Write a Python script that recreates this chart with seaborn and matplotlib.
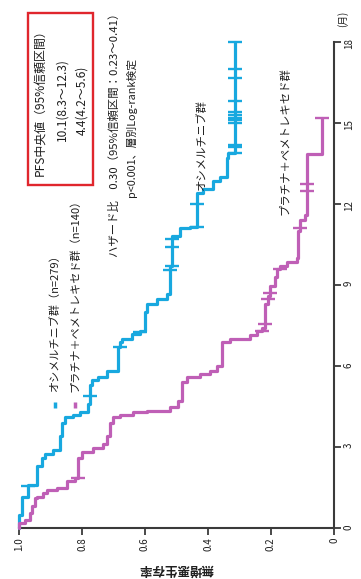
import numpy as np
import pandas as pd
import matplotlib
matplotlib.use("Agg")
import matplotlib.pyplot as plt
from matplotlib.patches import Rectangle
import seaborn as sns

# ---- data -------------------------------------------------------------
# Kaplan-Meier steps: event time (months) and survival after the event
osi_times = [0.5, 1.15, 1.6, 2.3, 2.6, 2.75, 2.9, 3.4, 3.9, 4.1, 4.2, 4.3, 4.6,
             5.3, 5.5, 5.6, 5.8, 6.7, 6.9, 7.0, 7.2, 7.3, 8.0, 8.3, 8.5, 8.65,
             9.7, 10.8, 11.1, 11.15, 12.4, 12.55, 12.85, 13.0, 13.7, 13.9]
osi_surv = [0.99, 0.97, 0.943, 0.927, 0.917, 0.892, 0.870, 0.863, 0.854, 0.83,
            0.806, 0.781, 0.775, 0.768, 0.749, 0.72, 0.686, 0.679, 0.673, 0.641,
            0.616, 0.60, 0.594, 0.562, 0.53, 0.52, 0.514, 0.489, 0.457, 0.435,
            0.416, 0.384, 0.362, 0.34, 0.336, 0.314]
osi_end = 18.0
osi_censor = [1.55, 4.9, 6.7, 7.25, 9.55, 9.7, 10.4, 10.7, 11.15, 12.0, 13.9,
              14.1, 14.2, 15.0, 15.1, 15.2, 15.3, 15.4, 15.8, 16.65, 17.0, 18.0]

pem_times = [0.19, 0.3, 0.55, 0.8, 1.1, 1.15, 1.3, 1.4, 1.5, 1.75, 1.85, 2.6,
             2.8, 2.95, 3.1, 3.4, 3.9, 4.1, 4.2, 4.3, 4.35, 4.5, 4.7, 5.4, 5.6,
             5.7, 5.8, 6.0, 6.9, 7.0, 7.15, 7.3, 7.4, 8.3, 8.6, 8.95, 9.3, 9.6,
             9.7, 9.85, 10.0, 11.0, 11.4, 11.6, 13.85]
pem_surv = [0.981, 0.965, 0.959, 0.949, 0.943, 0.924, 0.911, 0.879, 0.848,
            0.822, 0.813, 0.800, 0.765, 0.733, 0.720, 0.711, 0.702, 0.679,
            0.638, 0.594, 0.521, 0.495, 0.483, 0.467, 0.425, 0.394, 0.371,
            0.356, 0.33, 0.267, 0.244, 0.229, 0.219, 0.21, 0.203, 0.187,
            0.181, 0.171, 0.149, 0.117, 0.114, 0.108, 0.092, 0.086, 0.038]
pem_end = 15.2
pem_censor = [1.85, 7.3, 7.55, 8.5, 8.7, 9.6, 11.1, 12.5, 12.75, 15.2]

month_ticks = [0, 3, 6, 9, 12, 15, 18]
surv_ticks = [1.0, 0.8, 0.6, 0.4, 0.2, 0.0]
surv_labels = ["1.0", "0.8", "0.6", "0.4", "0.2", "0"]

osi_name = "オシメルチニブ群"
pem_name = "プラチナ＋ペメトレキセド群"
osi_n, pem_n = 279, 140

BLUE = "#18a8df"
MAGENTA = "#bf5fb6"
RED = "#e0262d"
AX = "#3a3a3a"
TXT = "#1e1e1e"


def km_path(times, surv, t_end):
    xs, ys, prev = [1.0], [0.0], 1.0
    for t, s in zip(times, surv):
        xs += [prev, s]
        ys += [t, t]
        prev = s
    xs.append(prev)
    ys.append(t_end)
    return pd.DataFrame({"surv": xs, "month": ys})


def surv_at(times, surv, t):
    i = np.searchsorted(times, t, side="right") - 1
    return surv[i] if i >= 0 else 1.0


# ---- figure (chart laid on its side: months run upward) --------------
sns.set_theme(style="ticks")
plt.rcParams["font.family"] = ["Noto Sans CJK JP", "DejaVu Sans"]

W, H = 361, 579
fig = plt.figure(figsize=(W / 100, H / 100), dpi=100)
ax = fig.add_axes([19 / W, (H - 528) / H, 315 / W, 486 / H])
ax.set_xlim(1.0, 0.0)
ax.set_ylim(0, 18)

for times, surv, t_end, cens, col in [
    (osi_times, osi_surv, osi_end, osi_censor, BLUE),
    (pem_times, pem_surv, pem_end, pem_censor, MAGENTA),
]:
    df = km_path(times, surv, t_end)
    sns.lineplot(data=df, x="surv", y="month", sort=False, estimator=None,
                 color=col, lw=2.3, ax=ax, clip_on=False, zorder=3)
    cdf = pd.DataFrame({"month": cens,
                        "surv": [surv_at(times, surv, t) for t in cens]})
    sns.scatterplot(data=cdf, x="surv", y="month", marker="_", s=100,
                    linewidth=1.7, color=col, ax=ax, clip_on=False, zorder=4)

# axes
ax.spines[["left", "top"]].set_visible(False)
for sp in ["right", "bottom"]:
    ax.spines[sp].set_color(AX)
    ax.spines[sp].set_linewidth(1.5)
ax.yaxis.tick_right()
ax.set_yticks(month_ticks)
ax.set_yticklabels([str(m) for m in month_ticks])
ax.set_xticks(surv_ticks)
ax.set_xticklabels(surv_labels)
ax.tick_params(axis="both", direction="out", length=5, width=1.3, color=AX,
               labelsize=7, labelcolor=TXT, pad=2)
ax.tick_params(axis="x", labelrotation=90)
ax.tick_params(axis="y", labelrotation=90)
ax.set_xlabel("")
ax.set_ylabel("")
ax.grid(False)

ax.text(-0.029, 18.85, "(月)", rotation=90, ha="center", va="center",
        fontsize=7, color=TXT)
ax.text(0.502, -1.52, "無増悪生存率", rotation=180, ha="center", va="center",
        fontsize=9, fontweight="bold", color=TXT)

# median PFS box
ax.add_patch(Rectangle((0.765, 12.7), 0.206, 6.37, fill=False, edgecolor=RED,
                       lw=1.7, clip_on=False, zorder=5))
box_lines = ["PFS中央値（95%信頼区間）", "10.1(8.3〜12.3)", "4.4(4.2〜5.6)"]
for s, txt in zip([0.933, 0.863, 0.800], box_lines):
    ax.text(s, 15.85, txt, rotation=90, ha="center", va="center",
            fontsize=8.6, color=TXT)

# hazard ratio
ax.text(0.698, 10.04, "ハザード比　0.30（95%信頼区間：0.23〜0.41）", rotation=90,
        rotation_mode="anchor", ha="left", va="center", fontsize=8.2,
        color=TXT)
ax.text(0.644, 12.26, "p<0.001、層別Log-rank検定", rotation=90,
        rotation_mode="anchor", ha="left", va="center", fontsize=7.8,
        color=TXT)

# legend
for s, col, name, n in [(0.886, BLUE, osi_name, osi_n),
                        (0.822, MAGENTA, pem_name, pem_n)]:
    sns.scatterplot(x=[s], y=[4.56], marker="|", s=22, linewidth=2.5,
                    color=col, ax=ax, clip_on=False)
    ax.text(s, 5.04, f"{name}（n={n}）", rotation=90, rotation_mode="anchor",
            ha="left", va="center", fontsize=8, color=TXT)

# curve labels
ax.text(0.422, 14.19, osi_name, rotation=90, ha="center", va="center",
        fontsize=8.2, color=TXT)
ax.text(0.156, 14.33, pem_name, rotation=90, ha="center", va="center",
        fontsize=8.2, color=TXT)

fig.savefig("out.png", dpi=100)
